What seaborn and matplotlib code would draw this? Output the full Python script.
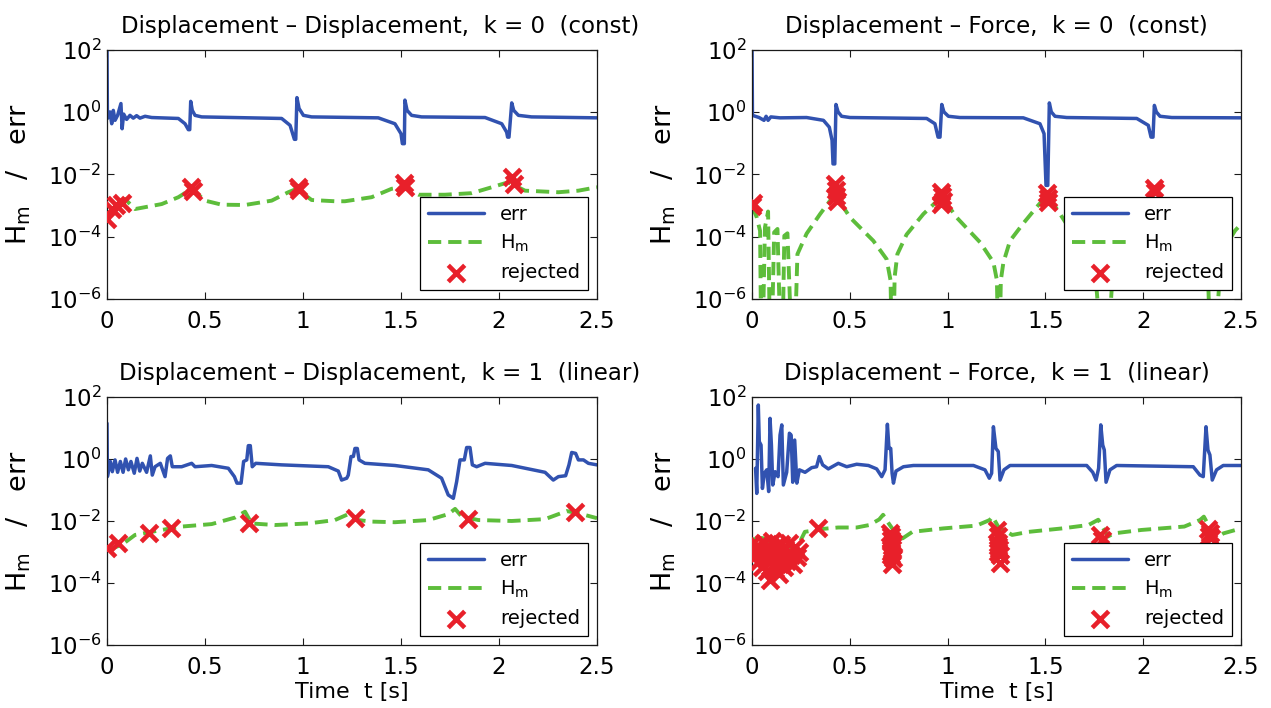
import numpy as np
import matplotlib
matplotlib.use("Agg")
import matplotlib.pyplot as plt
from matplotlib.ticker import NullLocator
import seaborn as sns

# Values: (time [s], log10 of value)
# -9 marks where H_m goes through zero (off the bottom of the log axis)

# Displacement - Displacement, k = 0
dd0_err = [(0.0, 2.0), (0.002, -0.20), (0.015, 0.01), (0.024, -0.37), (0.032, 0.06), (0.041, -0.26),
           (0.054, -0.10), (0.071, 0.28), (0.077, -0.53), (0.085, -0.06), (0.100, -0.23), (0.117, -0.10),
           (0.134, -0.19), (0.151, -0.11), (0.168, -0.19), (0.194, -0.13), (0.228, -0.17), (0.364, -0.20),
           (0.398, -0.37), (0.415, -0.56), (0.422, -0.56), (0.427, 0.35), (0.435, 0.06), (0.449, -0.10),
           (0.483, -0.15), (0.891, -0.20), (0.934, -0.42), (0.956, -0.87), (0.963, -0.87), (0.969, 0.47),
           (0.980, 0.12), (1.002, -0.10), (1.044, -0.15), (1.384, -0.18), (1.469, -0.37), (1.500, -0.69),
           (1.507, -1.01), (1.517, -1.01), (1.520, 0.39), (1.531, 0.06), (1.554, -0.10), (1.605, -0.15),
           (1.929, -0.17), (2.014, -0.37), (2.039, -0.64), (2.044, -0.80), (2.051, -0.80), (2.065, 0.30),
           (2.075, 0.06), (2.099, -0.10), (2.166, -0.15), (2.500, -0.18)]
dd0_hm = [(0.0, -3.38), (0.041, -3.05), (0.066, -2.84), (0.092, -2.79), (0.143, -3.11), (0.211, -3.03),
          (0.279, -2.95), (0.364, -2.73), (0.432, -2.46), (0.500, -2.84), (0.585, -2.97), (0.704, -2.98),
          (0.840, -2.84), (0.925, -2.57), (0.968, -2.46), (1.044, -2.82), (1.163, -2.86), (1.214, -2.86),
          (1.350, -2.73), (1.452, -2.46), (1.512, -2.41), (1.589, -2.65), (1.724, -2.65), (1.861, -2.60),
          (1.963, -2.41), (2.047, -2.25), (2.133, -2.52), (2.303, -2.57), (2.405, -2.52), (2.500, -2.41)]
dd0_rej = [(0.0, -3.43), (0.024, -3.11), (0.045, -2.98), (0.075, -2.93), (0.429, -2.41), (0.437, -2.52),
           (0.975, -2.41), (0.980, -2.50), (1.517, -2.28), (1.522, -2.40), (2.065, -2.09), (2.078, -2.30)]

# Displacement - Force, k = 0
df0_err = [(0.0, 2.0), (0.002, -0.10), (0.036, -0.17), (0.061, -0.26), (0.072, -0.13), (0.082, -0.26),
           (0.096, -0.15), (0.143, -0.18), (0.279, -0.17), (0.365, -0.26), (0.395, -0.48), (0.409, -0.90),
           (0.414, -1.66), (0.423, -1.66), (0.429, 0.25), (0.440, 0.01), (0.458, -0.13), (0.501, -0.17),
           (0.893, -0.20), (0.935, -0.37), (0.951, -0.80), (0.961, -0.80), (0.970, 0.25), (0.981, 0.01),
           (1.004, -0.13), (1.063, -0.17), (1.387, -0.18), (1.472, -0.37), (1.493, -0.69), (1.503, -2.35),
           (1.512, -2.35), (1.520, 0.30), (1.530, 0.01), (1.549, -0.13), (1.609, -0.17), (1.967, -0.20),
           (2.026, -0.42), (2.040, -0.80), (2.050, -0.80), (2.057, 0.22), (2.067, 0.01), (2.086, -0.13),
           (2.146, -0.17), (2.500, -0.18)]
df0_hm = [(0.0, -3.0), (0.024, -3.38), (0.041, -3.81), (0.049, -9), (0.066, -3.70), (0.082, -3.19),
          (0.095, -9), (0.113, -3.86), (0.130, -3.75), (0.152, -9), (0.165, -3.97), (0.181, -3.89),
          (0.211, -9), (0.232, -4.56), (0.279, -3.90), (0.348, -3.27), (0.399, -2.84), (0.429, -2.68),
          (0.501, -3.38), (0.620, -4.13), (0.688, -4.72), (0.708, -5.40), (0.719, -9), (0.729, -5.30),
          (0.743, -4.56), (0.790, -3.93), (0.876, -3.27), (0.970, -2.71), (1.046, -3.38), (1.166, -4.18),
          (1.234, -4.82), (1.252, -5.40), (1.262, -9), (1.272, -5.40), (1.285, -4.83), (1.319, -4.13),
          (1.387, -3.57), (1.455, -3.05), (1.510, -2.65), (1.575, -3.27), (1.650, -4.0), (1.750, -4.8),
          (1.805, -9), (1.850, -4.6), (1.950, -3.6), (2.055, -2.7), (2.150, -3.6), (2.250, -4.3),
          (2.330, -5.0), (2.350, -9), (2.400, -4.5), (2.470, -3.8), (2.500, -3.6)]
df0_rej = [(0.0, -3.0), (0.005, -2.92), (0.425, -2.30), (0.430, -2.50), (0.428, -2.68), (0.432, -2.85),
           (0.965, -2.55), (0.970, -2.70), (0.975, -2.85), (0.968, -2.95), (1.510, -2.60), (1.515, -2.75),
           (1.512, -2.90), (2.055, -2.42), (2.060, -2.55)]

# Displacement - Displacement, k = 1
dd1_err = [(0.0, 1.15), (0.002, -0.57), (0.017, -0.08), (0.027, -0.41), (0.041, -0.03), (0.054, -0.43),
           (0.068, -0.08), (0.082, -0.43), (0.095, 0.0), (0.109, -0.35), (0.122, -0.08), (0.139, -0.46),
           (0.153, 0.02), (0.167, -0.39), (0.180, -0.14), (0.202, -0.43), (0.221, 0.10), (0.231, -0.52),
           (0.245, -0.25), (0.272, -0.14), (0.296, -0.57), (0.309, 0.02), (0.323, 0.10), (0.333, -0.25),
           (0.381, -0.25), (0.432, -0.14), (0.449, -0.25), (0.534, -0.21), (0.619, -0.30), (0.650, -0.57),
           (0.663, -0.78), (0.684, -0.78), (0.697, -0.08), (0.713, -0.03), (0.721, 0.43), (0.731, 0.43),
           (0.741, -0.25), (0.759, -0.14), (0.891, -0.19), (1.129, -0.25), (1.180, -0.39), (1.197, -0.68),
           (1.223, -0.62), (1.231, -0.52), (1.245, 0.08), (1.257, 0.08), (1.265, 0.34), (1.277, 0.34),
           (1.286, -0.03), (1.316, -0.14), (1.469, -0.21), (1.639, -0.35), (1.707, -0.62), (1.741, -1.16),
           (1.767, -1.27), (1.784, -0.73), (1.801, -0.03), (1.823, -0.03), (1.835, 0.37), (1.852, 0.37),
           (1.864, -0.19), (1.886, -0.25), (1.929, -0.14), (2.065, -0.21), (2.235, -0.43), (2.277, -0.68),
           (2.303, -0.57), (2.340, -0.54), (2.357, -0.19), (2.371, 0.21), (2.391, 0.18), (2.405, -0.03),
           (2.431, -0.03), (2.456, -0.14), (2.500, -0.19)]
dd1_hm = [(0.0, -2.94), (0.075, -2.77), (0.143, -2.45), (0.279, -2.29), (0.381, -2.18), (0.534, -2.10),
          (0.653, -1.89), (0.704, -1.70), (0.738, -2.08), (0.857, -2.13), (1.027, -2.08), (1.163, -1.97),
          (1.231, -1.78), (1.282, -1.97), (1.350, -2.02), (1.469, -2.04), (1.639, -1.97), (1.741, -1.78),
          (1.776, -1.61), (1.810, -1.86), (1.895, -1.97), (2.065, -2.00), (2.235, -1.94), (2.303, -1.78),
          (2.345, -1.68), (2.405, -1.75), (2.500, -1.91)]
dd1_rej = [(0.0, -2.88), (0.056, -2.72), (0.214, -2.40), (0.327, -2.24), (0.724, -2.08), (1.265, -1.89),
           (1.844, -1.94), (2.388, -1.70)]

# Displacement - Force, k = 1
df1_err = [(0.018, -0.30), (0.024, -1.11), (0.032, 1.74), (0.037, 0.56), (0.046, 0.45), (0.053, -0.95),
           (0.063, -0.46), (0.075, -0.35), (0.085, -1.05), (0.092, 1.31), (0.099, 0.45), (0.106, -0.84),
           (0.118, -0.41), (0.133, -0.57), (0.143, 0.77), (0.152, 1.10), (0.160, -0.84), (0.177, -0.43),
           (0.191, 0.83), (0.200, 0.77), (0.208, -0.75), (0.218, 0.61), (0.229, -0.78), (0.242, -0.35),
           (0.271, -0.43), (0.305, -0.28), (0.330, -0.25), (0.344, 0.08), (0.361, -0.19), (0.390, -0.32),
           (0.441, -0.14), (0.484, -0.25), (0.535, -0.17), (0.595, -0.21), (0.637, -0.32), (0.663, -0.57),
           (0.680, -0.35), (0.692, 1.12), (0.700, 0.34), (0.709, 0.34), (0.716, -0.46), (0.723, -0.78),
           (0.736, -0.39), (0.774, -0.25), (0.825, -0.21), (1.132, -0.21), (1.191, -0.35), (1.213, -0.62),
           (1.225, -0.46), (1.234, 1.04), (1.247, 0.34), (1.259, 0.24), (1.268, -0.68), (1.288, -0.35),
           (1.319, -0.21), (1.711, -0.21), (1.742, -0.43), (1.759, -0.68), (1.772, -0.30), (1.783, 1.10),
           (1.793, 0.45), (1.801, 0.29), (1.810, -0.75), (1.830, -0.35), (1.864, -0.21), (2.256, -0.25),
           (2.290, -0.52), (2.307, -0.57), (2.321, 1.04), (2.331, 0.29), (2.341, 0.13), (2.353, -0.68),
           (2.375, -0.35), (2.409, -0.21), (2.500, -0.21)]
df1_hm = [(0.0, -2.60), (0.050, -2.55), (0.090, -2.60), (0.110, -3.80), (0.140, -3.50), (0.200, -2.90),
          (0.245, -2.67), (0.270, -2.35), (0.370, -2.25), (0.440, -2.21), (0.535, -2.21), (0.600, -2.13),
          (0.650, -1.95), (0.670, -1.80), (0.690, -2.00), (0.740, -2.45), (0.770, -2.56), (0.820, -2.35),
          (0.977, -2.24), (1.147, -2.15), (1.215, -1.97), (1.230, -1.86), (1.260, -2.20), (1.330, -2.45),
          (1.415, -2.35), (1.585, -2.24), (1.720, -2.13), (1.770, -1.96), (1.820, -2.50), (1.850, -2.40),
          (1.990, -2.29), (2.210, -2.18), (2.290, -1.97), (2.310, -1.86), (2.370, -2.56), (2.410, -2.40),
          (2.500, -2.24)]
df1_rej = [(0.000, -2.75), (0.010, -2.90), (0.020, -3.10), (0.030, -2.80), (0.035, -3.30), (0.045, -3.00),
           (0.050, -3.50), (0.060, -2.70), (0.065, -3.20), (0.075, -3.60), (0.080, -2.90), (0.090, -3.90),
           (0.095, -3.30), (0.100, -2.65), (0.110, -3.10), (0.115, -3.55), (0.120, -2.80), (0.130, -3.40),
           (0.135, -3.00), (0.140, -3.70), (0.150, -2.75), (0.155, -3.20), (0.165, -3.50), (0.170, -2.90),
           (0.180, -3.30), (0.190, -2.70), (0.200, -3.10), (0.210, -3.40), (0.220, -2.85), (0.230, -3.15),
           (0.240, -3.00), (0.339, -2.24), (0.705, -2.40), (0.710, -2.60), (0.715, -2.80), (0.710, -3.00),
           (0.720, -3.20), (0.715, -3.40), (0.708, -2.50), (0.718, -2.90), (0.712, -3.10), (0.720, -2.70),
           (1.250, -2.30), (1.260, -2.50), (1.255, -2.70), (1.265, -2.90), (1.270, -3.10), (1.268, -3.35),
           (1.260, -2.80), (1.255, -3.00), (1.780, -2.45), (1.790, -2.60), (2.330, -2.25), (2.340, -2.40),
           (2.345, -2.55), (2.335, -2.50)]

titles = ["Displacement \u2013 Displacement,  k = 0  (const)",
          "Displacement \u2013 Force,  k = 0  (const)",
          "Displacement \u2013 Displacement,  k = 1  (linear)",
          "Displacement \u2013 Force,  k = 1  (linear)"]
series = [(dd0_err, dd0_hm, dd0_rej), (df0_err, df0_hm, df0_rej),
          (dd1_err, dd1_hm, dd1_rej), (df1_err, df1_hm, df1_rej)]
x_ticks = [0, 0.5, 1, 1.5, 2, 2.5]
x_tick_labels = ["0", "0.5", "1", "1.5", "2", "2.5"]
y_ticks = [1e-6, 1e-4, 1e-2, 1e0, 1e2]

sns.set_style("ticks")
plt.rcParams['font.family'] = ['DejaVu Sans']
plt.rcParams['mathtext.fontset'] = 'dejavusans'
plt.rcParams['text.color'] = 'black'
plt.rcParams['axes.labelcolor'] = 'black'
plt.rcParams['xtick.color'] = 'black'
plt.rcParams['ytick.color'] = 'black'

BLUE = "#3152b0"
GREEN = "#5dbd3b"
RED = "#e8202a"

# axes rectangles in figure fractions (left, bottom, width, height)
rects = [(0.0842, 0.5777, 0.3855, 0.3517), (0.5917, 0.5777, 0.3847, 0.3517),
         (0.0842, 0.0890, 0.3855, 0.3503), (0.5917, 0.0890, 0.3847, 0.3503)]
title_x = [0.557, 0.5, 0.557, 0.5]

fig = plt.figure(figsize=(12.71, 7.08), dpi=100)

for i, (err, hm, rej) in enumerate(series):
    ax = fig.add_axes(rects[i])
    et, el = np.array(err).T
    ht, hl = np.array(hm).T
    rt, rl = np.array(rej).T

    sns.lineplot(x=et, y=10.0 ** el, ax=ax, color=BLUE, linewidth=2.5,
                 estimator=None, sort=False, label="err", zorder=2)
    sns.lineplot(x=ht, y=10.0 ** hl, ax=ax, color=GREEN, linewidth=2.8,
                 linestyle=(0, (3.4, 1.8)), estimator=None, sort=False,
                 label=r"$\mathregular{H_m}$", zorder=2.1)
    sns.scatterplot(x=rt, y=10.0 ** rl, ax=ax, marker="x", color=RED, s=140,
                    linewidth=3.3, label="rejected", zorder=3)

    ax.set_yscale("log")
    ax.set_xlim(0, 2.5)
    ax.set_ylim(1e-6, 1e2)
    ax.set_yticks(y_ticks)
    ax.yaxis.set_minor_locator(NullLocator())
    ax.set_xticks(x_ticks)
    ax.set_xticklabels(x_tick_labels)
    ax.tick_params(direction="in", top=True, right=True, length=5, width=0.8,
                   labelsize=16.5, color="#1a1a1a", labelcolor="black")
    ax.tick_params(axis="x", pad=8)
    ax.tick_params(axis="y", pad=4)
    for sp in ax.spines.values():
        sp.set_color("#1a1a1a")
        sp.set_linewidth(0.9)

    ax.set_title(titles[i], fontsize=16.5, x=title_x[i], pad=12, color="black")
    ax.set_ylabel(r"$\mathregular{H_m}$   /   err", fontsize=19.5, color="black")
    ax.yaxis.set_label_coords(-0.152, 0.5)
    if i >= 2:
        ax.set_xlabel("Time  t [s]", fontsize=16, labelpad=2, color="black")
    else:
        ax.set_xlabel("")

    handles, labels = ax.get_legend_handles_labels()
    leg = ax.legend(handles, labels, loc="lower right", bbox_to_anchor=(0.982, 0.036),
                    borderaxespad=0, fontsize=14, frameon=True, fancybox=False,
                    edgecolor="black", framealpha=1, handlelength=2.9,
                    handletextpad=0.8, labelspacing=0.45, borderpad=0.42,
                    labelcolor="black")
    leg.get_frame().set_linewidth(0.9)
    leg.set_zorder(5)

fig.savefig("out.png", dpi=100)
